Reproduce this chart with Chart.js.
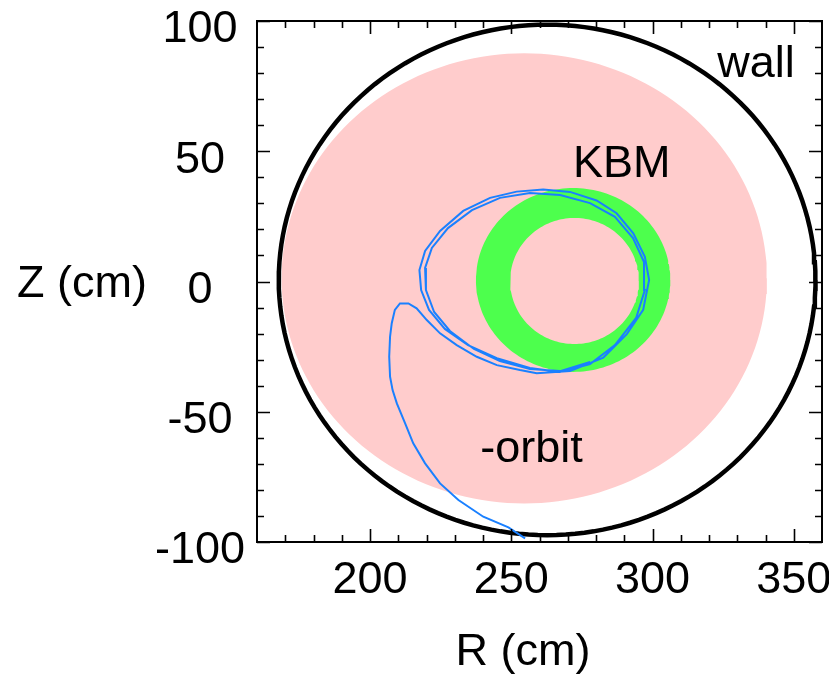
<!DOCTYPE html>
<html><head><meta charset="utf-8">
<script src="https://cdn.jsdelivr.net/npm/chart.js@4/dist/chart.umd.min.js"></script>
<style>html,body{margin:0;padding:0;background:#fff}#wrap{width:829px;height:677px}</style>
</head><body><div id="wrap"><canvas id="c" width="829" height="677"></canvas></div>
<script>
// ---- data ----
const rTickLabels = [200, 250, 300, 350];
const zTickLabels = [-100, -50, 0, 50, 100];
const rMinorTicks = [170, 180, 190, 210, 220, 230, 240, 260, 270, 280, 290, 310, 320, 330, 340];
const zMinorTicks = [-90, -80, -70, -60, -40, -30, -20, -10, 10, 20, 30, 40, 60, 70, 80, 90];

// shapes: [centre R, centre Z, half-width in R, half-height in Z]
const wallShape = [262.7, 0.6, 95.0, 98.0];
const plasmaShape = [254.6, 1.2, 85.9, 86.4];
const kbmOuter = [271.9, 0.6, 34.4, 35.3];
const kbmInner = [272.4, 0.2, 22.8, 24.2];

// particle orbit (R, Z in cm)
const orbitR = [254.9, 249.0, 240.1, 231.3, 224.8, 219.5, 215.3, 212.4, 209.5, 208.0, 207.1, 206.8, 207.1, 207.7, 208.8, 210.6, 213.6, 216.5, 220.1, 224.8, 230.7, 237.8, 244.9, 253.1, 259.0,
  270.8, 282.6, 290.9, 296.7, 298.8, 297.3, 293.2, 287.3, 280.2, 270.8, 261.3, 251.9, 242.5, 233.0, 224.8, 219.5, 217.5, 218.1, 220.9, 226.5, 234.7, 244.9, 256.6, 267.3,
  277.9, 286.7, 294.2, 297.3, 297.0, 293.1, 286.7, 277.9, 267.3, 256.6, 246.0, 236.1, 227.6, 221.9, 219.5, 219.8, 222.7, 228.3, 236.8, 246.0, 256.6, 267.3, 277.9];
const orbitZ = [-98.6, -94.4, -90.3, -83.9, -77.5, -69.8, -62.1, -54.4, -46.8, -41.7, -36.5, -28.9, -21.2, -16.0, -10.9, -8.4, -8.4, -10.3, -14.8, -19.9, -24.4, -28.9, -32.1, -34.0, -35.2,
  -34.4, -29.2, -20.2, -10.9, 0.6, 9.5, 18.5, 26.2, 31.1, 34.4, 35.3, 34.5, 32.1, 27.1, 19.4, 11.7, 4.4, -3.3, -10.9, -18.2, -24.4, -29.4, -33.2, -34.7,
  -31.7, -24.4, -14.0, -3.3, 7.5, 16.7, 24.8, 30.1, 33.2, 34.0, 32.1, 27.4, 20.5, 12.9, 5.2, -3.3, -11.7, -19.0, -25.9, -30.5, -33.6, -34.4, -30.9];

// text annotations placed in data coordinates [R, Z(baseline)]
const annotTexts = ['wall', 'KBM', '-orbit'];
const annotR = [336.6, 289.1, 257.2];
const annotZ = [78.5, 40.1, -69.3];

// ---- build ----
const FONT = "'Liberation Sans', Arial, Helvetica, sans-serif";
function ellipse(s) {
  const pts = [];
  const n = 180;
  for (let i = 0; i <= n; i++) {
    const t = 2 * Math.PI * i / n;
    pts.push({x: s[0] + s[2] * Math.cos(t), y: s[1] + s[3] * Math.sin(t)});
  }
  return pts;
}
const orbitPts = orbitR.map((r, i) => ({x: r, y: orbitZ[i]}));

const framePlugin = {
  id: 'frame',
  afterDatasetsDraw(chart) {
    const ctx = chart.ctx, ca = chart.chartArea;
    const xs = chart.scales.x, ys = chart.scales.y;
    ctx.save();
    ctx.fillStyle = '#000';
    ctx.font = '45px ' + FONT;
    ctx.textAlign = 'center';
    ctx.textBaseline = 'alphabetic';
    annotTexts.forEach((t, i) => {
      ctx.fillText(t, xs.getPixelForValue(annotR[i]), ys.getPixelForValue(annotZ[i]));
    });
    ctx.strokeStyle = '#000';
    ctx.lineWidth = 2;
    ctx.strokeRect(ca.left, ca.top, ca.right - ca.left, ca.bottom - ca.top);
    ctx.lineWidth = 1.6;
    ctx.beginPath();
    const tick = (vals, len) => {
      vals.forEach(v => {
        const px = Math.round(xs.getPixelForValue(v)) + 0.5;
        ctx.moveTo(px, ca.bottom); ctx.lineTo(px, ca.bottom - len);
        ctx.moveTo(px, ca.top); ctx.lineTo(px, ca.top + len);
      });
    };
    const tickY = (vals, len) => {
      vals.forEach(v => {
        const py = Math.round(ys.getPixelForValue(v)) + 0.5;
        ctx.moveTo(ca.left, py); ctx.lineTo(ca.left + len, py);
        ctx.moveTo(ca.right, py); ctx.lineTo(ca.right - len, py);
      });
    };
    tick(rTickLabels, 13); tick(rMinorTicks, 7);
    tickY(zTickLabels, 13); tickY(zMinorTicks, 7);
    ctx.stroke();
    ctx.font = '45px ' + FONT;
    ctx.textAlign = 'center';
    ctx.fillText('R (cm)', 523, 665);
    ctx.fillText('Z (cm)', 82, 297);
    ctx.restore();
  }
};

const tickFont = {family: FONT, size: 45};
new Chart(document.getElementById('c').getContext('2d'), {
  type: 'scatter',
  data: {
    datasets: [
      {label: 'orbit', data: orbitPts, showLine: true, borderColor: '#1a80ff', borderWidth: 2, pointRadius: 0, fill: false, order: 0},
      {label: 'wall', data: ellipse(wallShape), showLine: true, borderColor: '#000', borderWidth: 4.5, pointRadius: 0, fill: false, order: 1},
      {label: 'KBM inner', data: ellipse(kbmInner), showLine: true, borderColor: '#ffcccc', borderWidth: 0, backgroundColor: '#ffcccc', pointRadius: 0, fill: 'shape', order: 2},
      {label: 'KBM', data: ellipse(kbmOuter), showLine: true, borderColor: '#4dff4d', borderWidth: 0, backgroundColor: '#4dff4d', pointRadius: 0, fill: 'shape', order: 3},
      {label: 'plasma', data: ellipse(plasmaShape), showLine: true, borderColor: '#ffcccc', borderWidth: 0, backgroundColor: '#ffcccc', pointRadius: 0, fill: 'shape', order: 4}
    ]
  },
  options: {
    responsive: false,
    animation: false,
    layout: {padding: {top: 21, right: 7, left: 0, bottom: 0}},
    plugins: {legend: {display: false}, tooltip: {enabled: false}},
    scales: {
      x: {
        type: 'linear', min: 160, max: 360,
        afterBuildTicks: s => { s.ticks = rTickLabels.map(v => ({value: v})); },
        afterFit: s => { s.height = 135; s.paddingLeft = 0; s.paddingRight = 0; },
        grid: {display: false, drawTicks: false},
        border: {display: false},
        ticks: {padding: 12, font: tickFont, color: '#000', maxRotation: 0, autoSkip: false}
      },
      y: {
        type: 'linear', min: -100, max: 100,
        afterBuildTicks: s => { s.ticks = zTickLabels.map(v => ({value: v})); },
        afterFit: s => { s.width = 257; s.paddingTop = 0; s.paddingBottom = 0; },
        grid: {display: false, drawTicks: false},
        border: {display: false},
        ticks: {padding: 12, font: tickFont, color: '#000', crossAlign: 'center', labelOffset: 9, autoSkip: false}
      }
    }
  },
  plugins: [framePlugin]
});
</script>
</body></html>
